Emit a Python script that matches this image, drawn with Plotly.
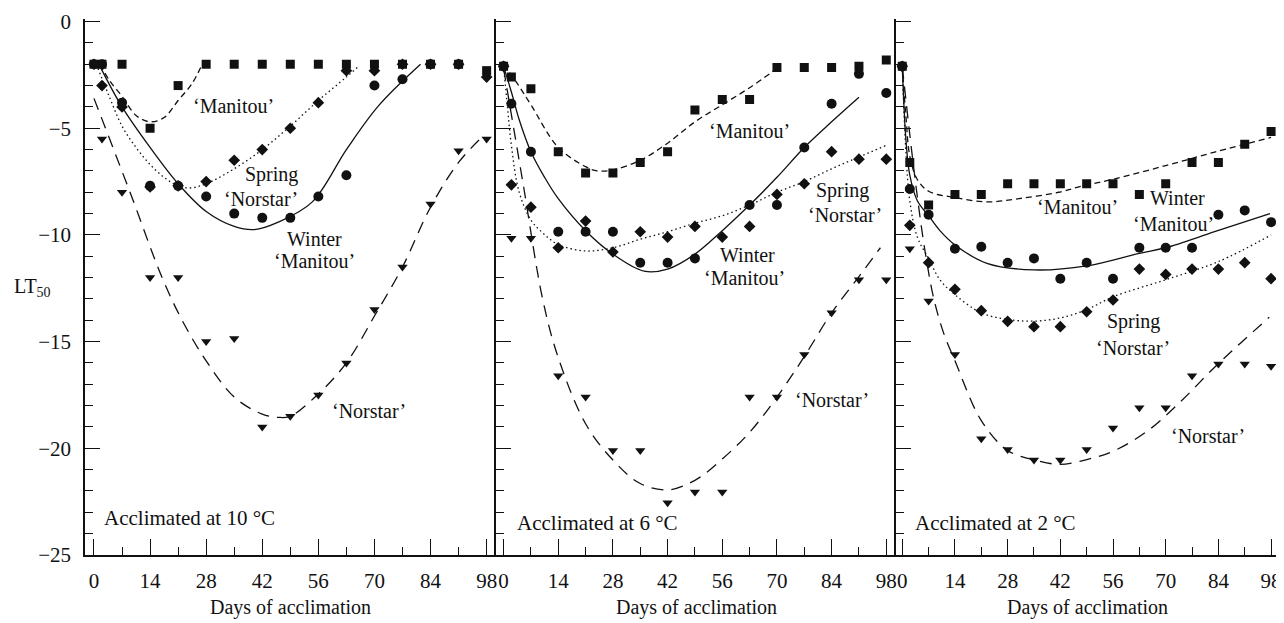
import plotly.graph_objects as go
from plotly.subplots import make_subplots

# ---------------- data ----------------
days = [0, 2, 7, 14, 21, 28, 35, 42, 49, 56, 63, 70, 77, 84, 91, 98]
x_tick_vals = [0, 14, 28, 42, 56, 70, 84, 98]
panel_titles = ["Acclimated at 10 °C", "Acclimated at 6 °C", "Acclimated at 2 °C"]
series_names = ["‘Manitou’", "Winter ‘Manitou’", "Spring ‘Norstar’", "‘Norstar’"]

# Acclimated at 10 °C : observed LT50
manitou_10 = [-2, -2, -2, -5.0, -3.0, -2, -2, -2, -2, -2, -2, -2, -2, -2, -2, -2.3]
winter_manitou_10 = [-2, -2, -3.8, -7.7, -7.7, -8.2, -9.0, -9.2, -9.2, -8.2, -7.2, -3.0, -2.7, -2.0, -2.0, None]
spring_norstar_10 = [-2, -3.0, -4.0, -7.75, -7.7, -7.5, -6.5, -6.0, -5.0, -3.8, -2.3, -2.3, -2.0, -2.0, -2.0, -2.6]
norstar_10 = [-2, -5.5, -8.0, -12.0, -12.0, -15.0, -14.85, -19.0, -18.5, -17.5, -16.0, -13.5, -11.5, -8.55, -6.05, -5.5]

# Acclimated at 6 °C : observed LT50
manitou_6 = [-2.1, -2.6, -3.15, -6.1, -7.1, -7.1, -6.6, -6.1, -4.15, -3.65, -3.65, -2.15, -2.15, -2.15, -2.1, -1.8]
winter_manitou_6 = [-2.1, -3.85, -6.1, -9.85, -9.85, -9.85, -11.3, -11.3, -11.1, None, -8.6, -8.6, -5.9, -3.85, -2.45, -3.35]
spring_norstar_6 = [-2.1, -7.65, -8.7, -10.6, -9.35, -10.8, -9.85, -10.1, -9.6, -10.1, -9.6, -8.1, -7.6, -6.1, -6.45, -6.45]
norstar_6 = [-2.1, -10.15, -10.15, -16.6, -17.6, -20.1, -20.1, -22.55, -22.05, -22.05, -17.6, -17.6, -15.6, -13.65, -12.1, -12.1]

# Acclimated at 2 °C : observed LT50
manitou_2 = [-2.1, -6.6, -8.6, -8.1, -8.1, -7.6, -7.6, -7.6, -7.6, -7.6, -8.1, -7.6, -6.6, -6.6, -5.75, -5.15]
winter_manitou_2 = [-2.1, -7.85, -9.05, -10.65, -10.55, -11.3, -11.1, -12.05, -11.3, -12.05, -10.6, -10.6, -10.6, -9.05, -8.85, -9.4]
spring_norstar_2 = [-2.1, -9.55, -11.3, -12.55, -13.55, -14.05, -14.3, -14.3, -13.6, -13.05, -11.6, -11.85, -11.6, -11.6, -11.3, -12.05]
norstar_2 = [-2.1, -10.65, -13.1, -15.6, -19.55, -20.05, -20.55, -20.55, -20.05, -19.05, -18.1, -18.1, -16.6, -16.05, -16.05, -16.15]

# fitted curves
manitou_fit_10_days = [1.5, 4, 7, 10.5, 14, 17.5, 21, 24.5, 27]
manitou_fit_10 = [-2.0, -2.8, -3.5, -4.4, -4.7, -4.5, -3.7, -2.9, -2.0]
winter_manitou_fit_10_days = [1.5, 7, 14, 21, 28, 35, 40, 46, 54.5, 63, 71, 81.5]
winter_manitou_fit_10 = [-2.1, -4.0, -5.9, -7.6, -8.9, -9.6, -9.75, -9.4, -8.45, -6.0, -3.95, -2.0]
spring_norstar_fit_10_days = [1, 4, 7, 10.5, 14, 17.5, 21, 24, 28, 35, 42, 49, 56, 63, 66]
spring_norstar_fit_10 = [-2.2, -3.6, -4.9, -5.9, -6.7, -7.3, -7.7, -7.8, -7.6, -6.9, -6.0, -4.9, -3.7, -2.6, -2.1]
norstar_fit_10_days = [0, 9, 17, 22, 28, 35, 42, 46, 49, 56, 63, 70, 77, 84, 91, 97.5]
norstar_fit_10 = [-3.6, -8.0, -12.0, -14.0, -15.9, -17.6, -18.4, -18.55, -18.5, -17.45, -16.0, -13.8, -11.5, -8.7, -6.6, -5.3]

manitou_fit_6_days = [0, 3.5, 7, 14, 21, 24, 28, 35, 42, 49, 56, 63, 70]
manitou_fit_6 = [-2.0, -2.9, -3.9, -5.9, -6.8, -7.0, -6.95, -6.5, -5.7, -4.7, -3.9, -3.1, -2.2]
winter_manitou_fit_6_days = [0, 2, 4, 7, 10.5, 14, 21, 28, 36, 42, 49, 56, 63, 70, 77, 84, 91]
winter_manitou_fit_6 = [-2.1, -3.3, -4.6, -6.1, -7.3, -8.3, -9.8, -10.9, -11.7, -11.6, -10.9, -9.8, -8.6, -7.3, -5.9, -4.7, -3.55]
spring_norstar_fit_6_days = [0, 1, 2, 4, 7, 10, 14, 21, 28, 35, 42, 49, 56, 63, 70, 77, 84, 91, 98]
spring_norstar_fit_6 = [-2.1, -4.0, -5.8, -8.0, -9.3, -9.9, -10.45, -10.75, -10.6, -10.2, -9.85, -9.45, -9.1, -8.6, -8.0, -7.5, -6.9, -6.35, -5.8]
norstar_fit_6_days = [0, 5, 10, 14, 21, 28, 35, 42, 49, 56, 63, 70, 77, 84, 91, 96.5]
norstar_fit_6 = [-2.2, -7.6, -13.0, -15.75, -18.85, -20.55, -21.65, -21.95, -21.5, -20.5, -19.25, -17.6, -15.7, -13.65, -11.95, -10.6]

manitou_fit_2_days = [0, 1, 2, 4, 7, 14, 22.5, 31, 41.5, 48, 56.5, 70, 83, 98]
manitou_fit_2 = [-2.1, -4.5, -6.3, -7.4, -7.95, -8.25, -8.45, -8.3, -8.0, -7.7, -7.37, -6.75, -6.12, -5.43]
winter_manitou_fit_2_days = [0, 1, 2, 4, 7, 10, 14, 22.5, 35, 49, 63, 70, 83, 97.7]
winter_manitou_fit_2 = [-2.1, -5.6, -7.2, -8.4, -9.1, -9.8, -10.47, -11.33, -11.64, -11.45, -10.86, -10.6, -9.85, -9.0]
spring_norstar_fit_2_days = [0, 1, 2, 4, 7, 10, 14, 21, 28, 35, 42, 49, 56, 70, 84, 98]
spring_norstar_fit_2 = [-2.1, -6.2, -8.4, -10.1, -11.1, -12.1, -12.8, -13.65, -13.96, -14.04, -13.89, -13.5, -12.9, -12.1, -11.25, -10.0]
norstar_fit_2_days = [0, 2, 4, 6, 8.4, 11, 14, 21, 28, 35.5, 42, 50, 56.5, 65.3, 74.2, 83, 90, 97.5]
norstar_fit_2 = [-2.1, -5.3, -8.2, -10.7, -13.0, -14.6, -15.9, -18.7, -20.1, -20.56, -20.75, -20.48, -20.1, -19.17, -17.77, -16.2, -15.05, -13.86]

observed = [
    [manitou_10, winter_manitou_10, spring_norstar_10, norstar_10],
    [manitou_6, winter_manitou_6, spring_norstar_6, norstar_6],
    [manitou_2, winter_manitou_2, spring_norstar_2, norstar_2],
]
fits = [
    [(manitou_fit_10_days, manitou_fit_10), (winter_manitou_fit_10_days, winter_manitou_fit_10),
     (spring_norstar_fit_10_days, spring_norstar_fit_10), (norstar_fit_10_days, norstar_fit_10)],
    [(manitou_fit_6_days, manitou_fit_6), (winter_manitou_fit_6_days, winter_manitou_fit_6),
     (spring_norstar_fit_6_days, spring_norstar_fit_6), (norstar_fit_6_days, norstar_fit_6)],
    [(manitou_fit_2_days, manitou_fit_2), (winter_manitou_fit_2_days, winter_manitou_fit_2),
     (spring_norstar_fit_2_days, spring_norstar_fit_2), (norstar_fit_2_days, norstar_fit_2)],
]

# ---------------- styles ----------------
FONT = "Liberation Serif, Times New Roman, serif"
INK = "#111111"
symbols = ["square", "circle", "diamond", "triangle-down"]
sizes = [9, 10, 9, 9]
dashes = ["6px,4px", "solid", "1.5px,3px", "12px,8px"]
marker_order = [3, 2, 0, 1]  # draw triangles, diamonds, squares, then circles on top

x_ranges = [[-2.24, 100.37], [-1.91, 100.56], [-1.59, 99.84]]
col_widths = [412.5, 401.5, 383.0]

fig = make_subplots(rows=1, cols=3, shared_yaxes=True, horizontal_spacing=0,
                    column_widths=col_widths)

for p in range(3):
    col = p + 1
    for s in range(4):
        fd, fv = fits[p][s]
        fig.add_trace(go.Scatter(x=fd, y=fv, mode="lines", line_shape="spline",
                                 line=dict(color=INK, width=1.3, dash=dashes[s]),
                                 showlegend=False, hoverinfo="skip"), row=1, col=col)
    for s in marker_order:
        fig.add_trace(go.Scatter(x=days, y=observed[p][s], mode="markers",
                                 name=series_names[s],
                                 marker=dict(symbol=symbols[s], size=sizes[s], color=INK,
                                             line=dict(width=0)),
                                 showlegend=False), row=1, col=col)

for p in range(3):
    suffix = "" if p == 0 else str(p + 1)
    fig.layout["xaxis" + suffix].update(
        range=x_ranges[p], tickmode="linear", tick0=0, dtick=14,
        ticks="inside", ticklen=16, tickwidth=1.3, tickcolor=INK,
        minor=dict(tickmode="linear", tick0=0, dtick=7, ticks="inside", ticklen=8,
                   tickwidth=1.3, tickcolor=INK),
        showline=True, linecolor=INK, linewidth=1.5, mirror=False,
        showgrid=False, zeroline=False, ticklabelstandoff=6,
        ticklabeloverflow="allow",
        tickfont=dict(family=FONT, size=21, color=INK))
    fig.layout["yaxis" + suffix].update(
        range=[-25, 0.12], tickmode="linear", tick0=0, dtick=5,
        ticks="inside", ticklen=15, tickwidth=1.3, tickcolor=INK,
        minor=dict(tickmode="linear", tick0=0, dtick=1, ticks="inside", ticklen=8,
                   tickwidth=1.3, tickcolor=INK),
        showline=True, linecolor=INK, linewidth=1.5, mirror=(p == 2),
        showgrid=False, zeroline=False, showticklabels=(p == 0),
        ticklabelstandoff=8, ticklabeloverflow="allow",
        tickfont=dict(family=FONT, size=21, color=INK))

# ---------------- text labels ----------------
label_specs = [
    # panel, text, x(day), y(LT50)
    (0, "‘Manitou’", 34.8, -3.94), (0, "Spring", 44.3, -7.15), (0, "‘Norstar’", 41.7, -8.31),
    (0, "Winter", 55.0, -10.18), (0, "‘Manitou’", 55.0, -11.2), (0, "‘Norstar’", 68.7, -18.23),
    (1, "‘Manitou’", 63.0, -5.11), (1, "Spring", 86.8, -7.91), (1, "‘Norstar’", 87.3, -9.07),
    (1, "Winter", 62.5, -10.94), (1, "‘Manitou’", 61.8, -12.03), (1, "‘Norstar’", 84.2, -17.74),
    (2, "‘Manitou’", 46.6, -8.69), (2, "Winter", 73.1, -8.27), (2, "‘Manitou’", 72.0, -9.51),
    (2, "Spring", 61.4, -14.04), (2, "‘Norstar’", 61.4, -15.29), (2, "‘Norstar’", 81.3, -19.4),
]
title_pos = [(2.0, -23.26), (2.8, -23.48), (2.9, -23.48)]

annotations = []
for p, txt, xx, yy in label_specs:
    xr = "x" if p == 0 else "x" + str(p + 1)
    annotations.append(dict(text=txt, x=xx, y=yy, xref=xr, yref="y", showarrow=False,
                            xanchor="center", yanchor="middle",
                            font=dict(family=FONT, size=20, color=INK)))
for p in range(3):
    xr = "x" if p == 0 else "x" + str(p + 1)
    annotations.append(dict(text=panel_titles[p], x=title_pos[p][0], y=title_pos[p][1],
                            xref=xr, yref="y", showarrow=False, xanchor="left",
                            yanchor="middle", font=dict(family=FONT, size=21, color=INK)))
    dom = fig.layout["xaxis" if p == 0 else "xaxis" + str(p + 1)].domain
    annotations.append(dict(text="Days of acclimation", x=(dom[0] + dom[1]) / 2, y=0,
                            xref="paper", yref="paper", showarrow=False, xanchor="center",
                            yanchor="middle", yshift=-52,
                            font=dict(family=FONT, size=20, color=INK)))
annotations.append(dict(text="LT<sub>50</sub>", x=0, y=0.5, xref="paper", yref="paper",
                        showarrow=False, xanchor="center", yanchor="middle", xshift=-53,
                        font=dict(family=FONT, size=20, color=INK)))

# the page body adds an 8 px margin, so the figure is sized to fit inside the window
fig.update_layout(width=1276, height=615, margin=dict(l=77, r=2, t=8, b=68),
                  paper_bgcolor="white", plot_bgcolor="white",
                  annotations=annotations, showlegend=False,
                  font=dict(family=FONT, color=INK))

fig.write_html("out.html")
